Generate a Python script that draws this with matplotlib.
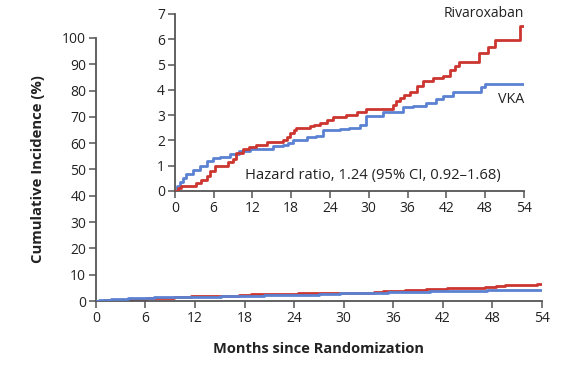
import matplotlib
matplotlib.use("Agg")
import matplotlib.pyplot as plt

plt.rcParams['font.family'] = ['Open Sans', 'DejaVu Sans']

# Data (months, cumulative incidence %)
riva_t = [0, 0.5, 1.0, 2.8, 3.3, 4.0, 4.9, 5.5, 6.2, 7.0, 8.2, 9.0, 9.5, 10.6, 11.5, 12.6, 14.2, 15.5, 16.7, 17.3, 17.8, 18.4, 18.8, 20.9, 21.6, 22.4, 23.5, 24.5, 26.5, 28.1, 29.6, 32.2, 33.7, 34.2, 34.8, 35.5, 36.3, 37.4, 38.4, 40.0, 41.5, 42.5, 43.3, 44.0, 46.9, 47.1, 48.4, 49.5, 53.3, 53.4, 54]
riva_v = [0, 0.12, 0.2, 0.2, 0.3, 0.42, 0.58, 0.8, 0.97, 1.0, 1.15, 1.26, 1.5, 1.68, 1.75, 1.8, 1.92, 1.95, 2.0, 2.15, 2.3, 2.4, 2.5, 2.58, 2.62, 2.7, 2.8, 2.92, 3.0, 3.13, 3.23, 3.23, 3.4, 3.55, 3.67, 3.8, 3.93, 4.16, 4.35, 4.46, 4.55, 4.8, 4.95, 5.1, 5.1, 5.47, 5.68, 5.97, 5.97, 6.53, 6.53]
vka_t = [0, 0.4, 0.8, 1.3, 1.8, 2.8, 3.9, 4.9, 5.9, 7.0, 8.5, 10.0, 11.6, 13.1, 15.2, 16.7, 17.5, 18.3, 20.4, 21.9, 22.9, 25.5, 27.0, 28.6, 29.6, 31.9, 32.2, 35.3, 36.8, 38.9, 40.4, 41.5, 43.0, 46.9, 47.4, 47.9, 54]
vka_v = [0, 0.2, 0.34, 0.52, 0.68, 0.82, 0.97, 1.17, 1.3, 1.34, 1.47, 1.57, 1.66, 1.68, 1.76, 1.82, 1.9, 2.0, 2.13, 2.16, 2.42, 2.45, 2.5, 2.62, 2.95, 2.95, 3.14, 3.32, 3.37, 3.47, 3.63, 3.74, 3.9, 3.9, 4.1, 4.24, 4.24]

x_ticks = [0, 6, 12, 18, 24, 30, 36, 42, 48, 54]
main_yticks = [0, 10, 20, 30, 40, 50, 60, 70, 80, 90, 100]
inset_yticks = [0, 1, 2, 3, 4, 5, 6, 7]

RED = '#cc3530'
BLUE = '#5b82d2'
SPINE = '#555555'
TXT = '#222222'

fig = plt.figure(figsize=(5.64, 3.68), dpi=100)

def style(ax):
    for s in ['top', 'right']:
        ax.spines[s].set_visible(False)
    for s in ['left', 'bottom']:
        ax.spines[s].set_color(SPINE)
        ax.spines[s].set_linewidth(1.3)
    ax.tick_params(direction='out', length=5, width=1.1, color=SPINE,
                   labelsize=10, labelcolor=TXT, pad=2)

ax = fig.add_axes([0.170, 0.182, 0.791, 0.715])
style(ax)
ax.step(vka_t, vka_v, where='post', color=BLUE, lw=2, zorder=3)
ax.step(riva_t, riva_v, where='post', color=RED, lw=2, zorder=2)
ax.set_xlim(0, 54)
ax.set_ylim(0, 100)
ax.set_xticks(x_ticks)
ax.set_yticks(main_yticks)
ax.set_ylabel('Cumulative Incidence (%)', fontsize=10.7, fontweight='bold', color=TXT, labelpad=12)
ax.set_xlabel('Months since Randomization', fontsize=10.5, fontweight='bold', color=TXT, labelpad=12)

ins = fig.add_axes([0.310, 0.481, 0.619, 0.481])
style(ins)
ins.patch.set_alpha(0)
ins.step(vka_t, vka_v, where='post', color=BLUE, lw=2, zorder=2)
ins.step(riva_t, riva_v, where='post', color=RED, lw=2, zorder=3)
ins.set_xlim(0, 54)
ins.set_ylim(0, 7)
ins.set_xticks(x_ticks)
ins.set_yticks(inset_yticks)
ins.text(54, 7.0, 'Rivaroxaban', ha='right', va='center', fontsize=10, color=TXT)
ins.text(54, 3.6, 'VKA', ha='right', va='center', fontsize=10.3, color=TXT)
ins.text(10.8, 0.62, 'Hazard ratio, 1.24 (95% CI, 0.92\u20131.68)', ha='left', va='center', fontsize=10.6, color=TXT)

fig.savefig('out.png', dpi=100)
